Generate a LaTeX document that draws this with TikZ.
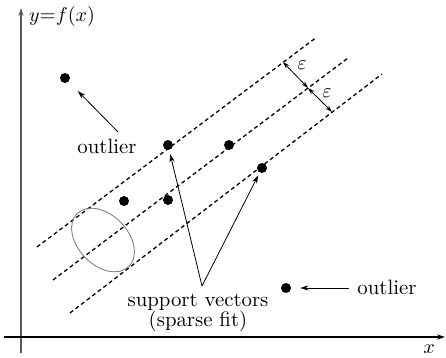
\documentclass[tikz,border=0pt]{standalone}
\usetikzlibrary{arrows.meta}
\begin{document}
\begin{tikzpicture}[x=0.5pt,y=-0.5pt,
  dot/.style={circle,fill=black,inner sep=0pt,minimum size=5pt},
  lbl/.style={font=\fontsize{10.4}{10}\selectfont,inner sep=0pt,align=center},
  svline/.style={dash pattern=on 2pt off 1.5pt, line width=0.65pt},
  arr/.style={-{Stealth[length=4pt,width=2.6pt]}, line width=0.4pt},
  darr/.style={{Stealth[length=3.5pt,width=2.2pt]}-{Stealth[length=3.5pt,width=2.2pt]}, line width=0.4pt},
  ]
\useasboundingbox (0,0) rectangle (446,358);
% axes
\coordinate (yb) at (21,353); \coordinate (yt) at (21,8);
\coordinate (xl) at (4,337);  \coordinate (xr) at (445,337);
\draw[arr, line width=0.65pt, black!65] (yb) -- (yt);
\draw[arr, line width=0.6pt] (xl) -- (xr);
\node[lbl] (ylab) at (62,17) {$y$=$f(x)$};
\node[lbl] (xlab) at (429,349) {$x$};
% tube lines
\coordinate (u1) at (37,247);  \coordinate (u2) at (317,37);
\coordinate (m1) at (53,280);  \coordinate (m2) at (348,58);
\coordinate (b1) at (70,313);  \coordinate (b2) at (382,74);
\draw[svline] (u1) -- (u2);
\draw[svline] (m1) -- (m2);
\draw[svline] (b1) -- (b2);
% epsilon markers
\coordinate (e1) at (283,62); \coordinate (e2) at (308,88); \coordinate (e3) at (332,112);
\draw[darr] (e1) -- (e2);
\draw[darr] (e2) -- (e3);
\node[lbl] (eps1) at (302,65) {$\varepsilon$};
\node[lbl] (eps2) at (327,93) {$\varepsilon$};
% ellipse
\draw[black!50, line width=0.45pt, rotate around={-46:(103,240)}] (103,240) ellipse [x radius=37, y radius=25];
% points
\node[dot] (o1) at (65,78) {};
\node[dot] (p1) at (168,145) {};
\node[dot] (p2) at (229,145) {};
\node[dot] (p3) at (262,168) {};
\node[dot] (p4) at (124,201) {};
\node[dot] (p5) at (168,200) {};
\node[dot] (o2) at (286,288) {};
% labels
\node[lbl] (out1) at (107,146) {outlier};
\node[lbl] (out2) at (387,287) {outlier};
\node[lbl] (svtxt) at (198,313) {support vectors\\(sparse fit)};
% arrows
\coordinate (t1) at (118,132);
\draw[arr, shorten >=6.5pt] (t1) -- (o1);
\coordinate (apex) at (202,286);
\draw[arr, shorten >=2pt] (apex) -- (p1);
\draw[arr, shorten >=1.5pt] (apex) -- (p3);
\draw[arr, shorten <=4pt, shorten >=4.5pt] (out2.west |- o2) -- (o2);
\end{tikzpicture}
\end{document}
